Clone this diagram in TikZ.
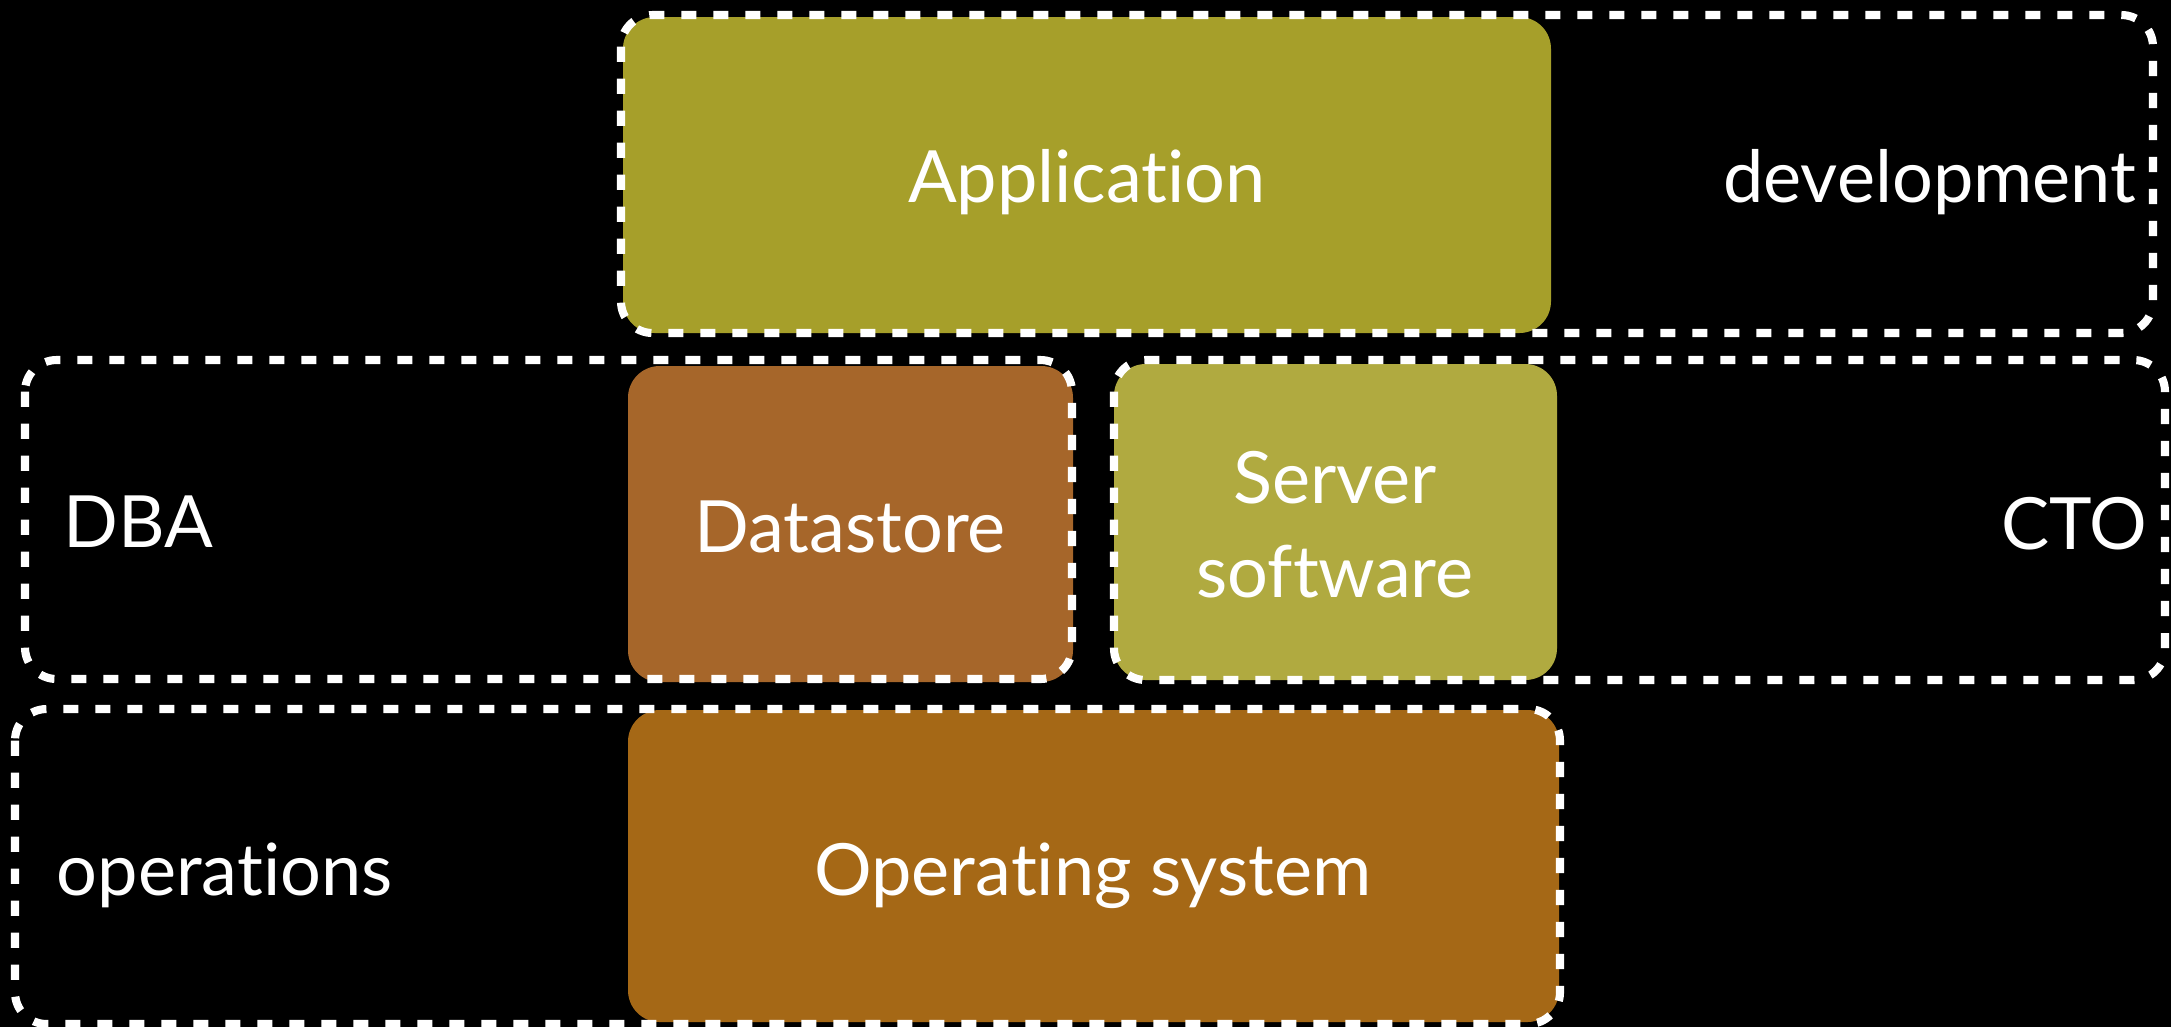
\documentclass[tikz,border=0pt]{standalone}
\usepackage{fontspec}
\setmainfont{Lato}[Ligatures=NoCommon]
\usetikzlibrary{positioning}

\definecolor{appolive}{RGB}{166,159,42}
\definecolor{serverolive}{RGB}{176,170,64}
\definecolor{databrown}{RGB}{166,102,42}
\definecolor{osbrown}{RGB}{165,104,22}

\tikzset{
    layer/.style={fill=#1, rounded corners=9pt},
    group/.style={draw=white, line width=2.3pt, dash pattern=on 4.3pt off 4.8pt, rounded corners=9pt},
    caption/.style={text=white, inner sep=0pt, font=\fontsize{20.5}{26.7}\selectfont, align=center}
}

\begin{document}
\begin{tikzpicture}[x=0.01cm, y=-0.01cm]
    \fill[black] (0,0) rectangle (2171,1027);

    % the stack
    \fill[layer=appolive] (623,17) rectangle (1551,333);
    \fill[layer=databrown] (628,366) rectangle (1073,682);
    \fill[layer=serverolive] (1114,364) rectangle (1557,680);
    \fill[layer=osbrown] (628,710) rectangle (1559,1022);

    \node[caption, anchor=base] (app) at (1087,202) {Application};
    \node[caption, anchor=base] (data) at (850,552) {Datastore};
    \node[caption, anchor=base] (server) at (1335,597) {Server\\software};
    \node[caption, anchor=base] (os) at (1093,895) {Operating system};

    % who owns what
    \foreach \xa/\ya/\xb/\yb in {621/15/2153/333, 25/360/1072/679, 1114/360/2165/680, 15/709/1560/1024} {
        \draw[group] (\xa,\ya) rectangle (\xb,\yb);
    }

    \node[caption, anchor=base east] (dev) at (2137,202) {development};
    \node[caption, anchor=base west] (dba) at (63,547) {DBA};
    \node[caption, anchor=base east] (cto) at (2148,549) {CTO};
    \node[caption, anchor=base west] (ops) at (56,895) {operations};
\end{tikzpicture}
\end{document}
